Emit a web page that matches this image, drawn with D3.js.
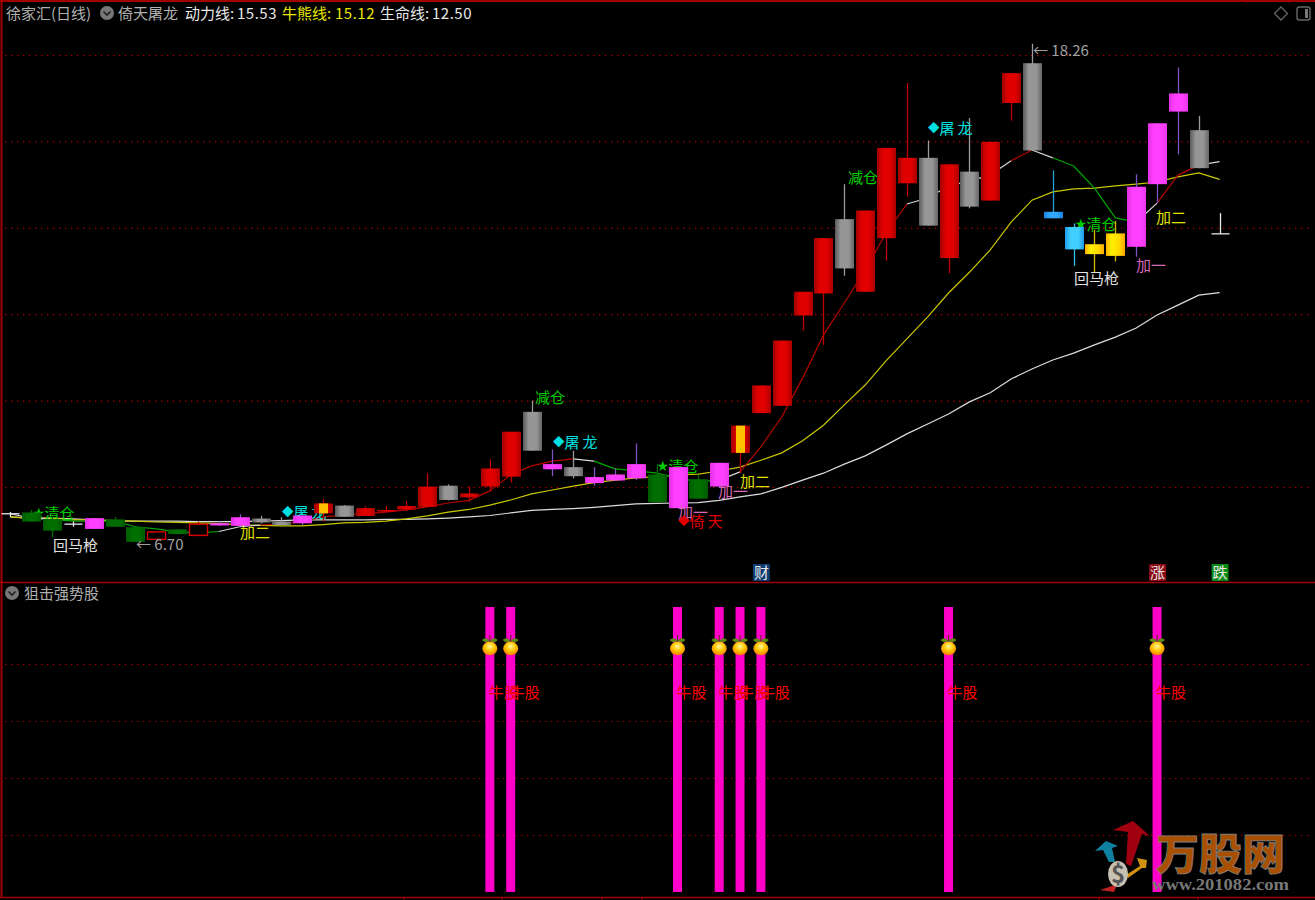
<!DOCTYPE html>
<html><head><meta charset="utf-8">
<style>html,body{margin:0;background:#000;overflow:hidden}svg{display:block}text{font-family:"Noto Sans CJK SC","Noto Sans",sans-serif}</style>
<script src="https://cdn.jsdelivr.net/npm/d3@7"></script></head><body>
<script>
const open_=[7.36,7.41,7.26,7.14,7.03,7.25,7.07,6.79,7.02,6.88,7.11,7.10,7.27,7.20,7.16,7.39,7.57,7.33,7.43,7.48,7.54,8.03,7.76,8.01,8.24,9.74,8.41,8.46,8.09,8.15,8.20,8.29,7.51,8.18,8.01,8.79,9.71,9.88,11.97,12.48,14.20,12.52,13.76,15.03,15.62,13.30,15.30,14.63,16.89,17.81,14.37,14.02,13.62,13.35,13.56,15.01,16.69,16.26,13.86];
const close_=[7.38,7.20,6.99,7.13,7.28,7.08,6.73,6.96,6.91,7.14,7.16,7.30,7.18,7.12,7.34,7.62,7.31,7.51,7.47,7.56,8.01,7.70,7.85,8.43,9.28,8.84,8.53,8.25,8.23,8.29,8.53,7.65,8.46,7.73,8.56,9.42,10.35,11.39,12.52,13.76,13.06,14.40,15.85,15.62,14.05,15.47,14.49,15.99,17.58,15.79,14.22,13.50,13.39,13.87,14.95,16.42,17.11,15.38,13.86];
const high_=[7.42,7.47,7.31,7.20,7.28,7.31,7.07,6.96,7.02,7.20,7.20,7.37,7.33,7.30,7.35,7.71,7.58,7.56,7.56,7.68,8.32,8.06,8.01,8.64,9.28,10.00,8.87,8.84,8.46,8.43,9.01,8.53,8.46,8.29,8.56,9.42,10.35,11.39,12.52,13.76,15.01,14.40,15.85,17.35,16.02,15.47,16.54,15.99,17.58,18.26,15.33,14.10,13.95,14.16,15.24,16.42,17.71,16.59,14.34];
const low_=[7.31,7.19,6.84,7.08,7.03,7.08,6.73,6.79,6.91,6.88,7.10,7.09,7.16,7.11,7.12,7.20,7.31,7.33,7.41,7.45,7.54,7.69,7.66,7.89,8.10,8.84,8.25,8.20,8.03,8.14,8.16,7.65,7.51,7.73,8.01,8.32,9.71,9.88,11.62,11.29,12.89,12.52,13.24,14.72,14.05,12.95,14.45,14.63,16.48,15.79,14.22,13.12,12.95,13.22,13.33,14.57,15.70,15.38,13.86];
const candleKind=["doji","down","down","doji","pink","down","down","hollow","down","hollow","pink","pink","silver","silver","pink","split","silver","up","up","up","up","silver","up","up","up","silver","pink","silver","pink","pink","pink","down","pink","down","pink","split","up","up","up","up","silver","up","up","up","silver","up","silver","up","up","silver","blue","sky","gold","gold","pink","pink","pink","silver","doji"];
const powerLine=[7.38,7.28,7.25,7.21,7.21,7.21,7.08,7.03,6.96,6.94,6.97,7.08,7.12,7.14,7.20,7.31,7.35,7.38,7.42,7.47,7.54,7.63,7.69,7.91,8.28,8.49,8.60,8.65,8.60,8.42,8.38,8.32,8.21,8.12,8.16,8.35,8.93,9.62,10.52,11.52,12.26,13.02,13.88,14.55,14.69,14.97,15.08,15.22,15.55,15.80,15.62,15.43,14.92,14.23,14.13,14.57,15.22,15.45,15.53];
const powerTrend=["flat","flat","fall","fall","fall","fall","fall","fall","fall","fall","flat","flat","rise","rise","rise","rise","rise","rise","rise","rise","rise","rise","rise","rise","rise","rise","rise","flat","fall","fall","fall","fall","fall","fall","flat","rise","rise","rise","rise","rise","rise","rise","rise","flat","flat","flat","flat","flat","rise","flat","fall","fall","fall","fall","flat","rise","rise","flat"];
const bullBearLine=[7.31,7.27,7.28,7.24,7.24,7.22,7.21,7.19,7.18,7.17,7.15,7.13,7.11,7.10,7.10,7.13,7.17,7.18,7.21,7.26,7.33,7.42,7.48,7.58,7.70,7.84,7.93,8.02,8.10,8.16,8.21,8.24,8.28,8.30,8.37,8.46,8.62,8.79,9.07,9.43,9.90,10.36,10.92,11.43,11.94,12.49,12.97,13.49,14.13,14.64,14.83,14.90,14.92,14.97,15.01,15.06,15.18,15.27,15.12];
const lifeLine=[7.31,7.28,7.28,7.26,7.24,7.21,7.21,7.21,7.21,7.20,7.20,7.20,7.21,7.22,7.24,7.24,7.24,7.24,7.25,7.25,7.26,7.28,7.31,7.34,7.40,7.46,7.48,7.50,7.53,7.57,7.61,7.62,7.63,7.64,7.69,7.77,7.84,7.99,8.16,8.32,8.53,8.72,8.97,9.23,9.46,9.69,9.97,10.18,10.50,10.73,10.94,11.10,11.29,11.47,11.68,11.98,12.21,12.44,12.50];
const priceTicks=[8,10,12,14,16,18];
const signalBars=[23,24,32,34,35,36,45,55];
const signalTicks=[0.2,0.4,0.6,0.8];
const tagBars=[36,55,58], tagText=["财","涨","跌"], tagKind=["news","limitUp","limitDown"];
const noteText=["★清仓","回马枪","← 6.70","加二","◆屠 龙","减仓","◆屠 龙","★清仓","加一","◆倚 天","加一","加二","减仓","◆屠 龙","← 18.26","★清仓","回马枪","加一","加二"];
const noteBar=[1,2,6,11,14,25,26,31,32,32,34,35,40,44,49,51,51,54,55];
const notePrice=[7.42,6.68,6.70,6.96,7.44,10.10,9.06,8.51,7.44,7.24,7.93,8.16,15.18,16.33,18.12,14.11,12.86,13.16,14.27];
const noteKind=["clear","horse","price","add2","dragon","cut","dragon","clear","add1","sky","add1","add2","cut","dragon","price","clear","horse","add1","add2"];

const W=1315,H=900;
const svg=d3.select("body").append("svg").attr("width",W).attr("height",H).style("background","#000");
const defs=svg.append("defs");
const x=d3.scaleLinear().domain([0,58]).range([10.3,1219.6]);
const y=d3.scaleLinear().domain([8,18]).range([487,55]);
const ySig=d3.scaleLinear().domain([0,1]).range([892,607]);
const BODY=19;
const grads={up:["#a00000","#e00000","#e00000","#a80000"],silver:["#5a5a5a","#969696","#969696","#666"],pink:["#e030e0","#ff40ff","#ff40ff","#e838e8"],down:["#005a00","#006e00","#006e00","#005a00"],gold:["#ffb000","#fff000","#ffd800","#ffa800"],sky:["#1c9cf0","#40d0ff","#40d0ff","#2098e8"],blue:["#1a80e0","#30a8ff","#30a8ff","#1a80e0"],split:["#a00000","#e00000","#e00000","#a00000"]};
Object.entries(grads).forEach(([k,c])=>{const g=defs.append("linearGradient").attr("id","g-"+k);
 [0,.3,.7,1].forEach((o,i)=>g.append("stop").attr("offset",o).attr("stop-color",c[i]));});
const rg=defs.append("radialGradient").attr("id","fruit").attr("cx",.5).attr("cy",.35).attr("r",.7);
[[0,"#fff8a0"],[.45,"#ffc800"],[1,"#f07000"]].forEach(([o,c])=>rg.append("stop").attr("offset",o).attr("stop-color",c));
const wickColor={up:"#c00000",hollow:"#c00000",split:"#c00000",down:"#006e00",pink:"#7e52c0",silver:"#9a9a9a",doji:"#e8e8e8",blue:"#28a0d0",sky:"#30c0e8",gold:"#d8b800"};
const trendColor={rise:"#b80000",flat:"#d8d8d8",fall:"#00a800"};
const noteStyle={clear:"#00d000",horse:"#e0e0e0",price:"#a0a0a0",add1:"#d868b8",add2:"#e0e000",dragon:"#00e0e0",cut:"#00d000",sky:"#e00000"};
const noteX=[33,53,136,240,282,535,553,657,678,678,718,740,848,928,1033,1075,1074,1136,1156];
const underNotes=new Set([0,4,7,15]);
const tagFill={news:"#0c3c70",limitUp:"#8c0a14",limitDown:"#0a8a14"};

// frame
const frame=svg.append("g").attr("stroke","#a00000").attr("fill","none");
frame.append("line").attr("x1",0).attr("x2",W).attr("y1",1).attr("y2",1).attr("stroke-width",2);
frame.append("line").attr("x1",1.5).attr("x2",1.5).attr("y1",0).attr("y2",898).attr("stroke-width",2);
frame.append("line").attr("x1",0).attr("x2",W).attr("y1",582.5).attr("y2",582.5).attr("stroke-width",1.5);
frame.append("line").attr("x1",0).attr("x2",W).attr("y1",897.5).attr("y2",897.5).attr("stroke-width",1.5);
[404,502,602,642,1099,1198].forEach(t=>frame.append("line").attr("x1",t).attr("x2",t).attr("y1",897).attr("y2",900));
[1246,1289].forEach(t=>frame.append("line").attr("x1",t).attr("x2",t).attr("y1",0).attr("y2",3));

// grids
const grid=svg.append("g").attr("stroke","#b00000").attr("stroke-width",1.2).attr("stroke-dasharray","1.4 4.6");
priceTicks.forEach(t=>grid.append("line").attr("x1",5).attr("x2",1312).attr("y1",y(t)+.5).attr("y2",y(t)+.5));
signalTicks.forEach(t=>grid.append("line").attr("x1",5).attr("x2",1312).attr("y1",ySig(t)+.5).attr("y2",ySig(t)+.5));

function note(g,i){
 const t=g.append("text").attr("x",noteX[i]).attr("y",y(notePrice[i])).attr("dominant-baseline","central")
  .attr("fill",noteStyle[noteKind[i]]).attr("font-size",15);
 const s=noteText[i],first=s[0];
 if(first==="★"||first==="◆"){t.append("tspan").attr("font-size",11.5).text(first);t.append("tspan").text(s.slice(1).replace(" ","\u2009"));}
 else t.text(s);}

// lines
const lineGen=d3.line().x((d,i)=>x(i)).y(d=>y(d));
const gL=svg.append("g").attr("fill","none").attr("stroke-width",1.2);
gL.append("path").attr("d",lineGen(lifeLine)).attr("stroke","#dcdcdc");
gL.append("path").attr("d",lineGen(bullBearLine)).attr("stroke","#c8c800");
powerTrend.forEach((t,i)=>gL.append("line").attr("x1",x(i)).attr("x2",x(i+1)).attr("y1",y(powerLine[i])).attr("y2",y(powerLine[i+1])).attr("stroke",trendColor[t]));

const under=svg.append("g");underNotes.forEach(i=>note(under,i));

// candles
const gC=svg.append("g");
open_.forEach((o,i)=>{const k=candleKind[i],c=close_[i],cx=Math.round(x(i))+.5,top=y(Math.max(o,c)),bot=y(Math.min(o,c));
 gC.append("line").attr("x1",cx).attr("x2",cx).attr("y1",y(high_[i])).attr("y2",y(low_[i])).attr("stroke",wickColor[k]).attr("stroke-width",1.3);
 if(k==="doji"){gC.append("line").attr("x1",cx-9).attr("x2",cx+9).attr("y1",top).attr("y2",top).attr("stroke","#e8e8e8").attr("stroke-width",1.3);return;}
 if(k==="hollow"){gC.append("rect").attr("x",cx-9).attr("y",top).attr("width",18).attr("height",bot-top).attr("fill","#000").attr("stroke","#d80000").attr("stroke-width",1.4);return;}
 gC.append("rect").attr("x",cx-BODY/2).attr("y",top).attr("width",BODY).attr("height",Math.max(1,bot-top)).attr("fill",`url(#g-${k})`);
 if(k==="split")gC.append("rect").attr("x",cx-4.5).attr("y",top).attr("width",9).attr("height",bot-top).attr("fill","#ffc000");
});

const over=svg.append("g");noteText.forEach((t,i)=>{if(!underNotes.has(i))note(over,i);});

// tags
tagBars.forEach((b,i)=>{const cx=x(b);const g=svg.append("g");
 g.append("rect").attr("x",cx-8).attr("y",564).attr("width",17).attr("height",17).attr("rx",1).attr("fill",tagFill[tagKind[i]]);
 g.append("text").attr("x",cx+.5).attr("y",577.5).attr("text-anchor","middle").attr("font-size",15).attr("fill","#e8e8e8").text(tagText[i]);});

// signal panel
const gS=svg.append("g");
signalBars.forEach(b=>{const cx=x(b);
 gS.append("rect").attr("x",cx-4.5).attr("y",ySig(1)).attr("width",9).attr("height",ySig(0)-ySig(1)).attr("fill","#ff00c8");});
signalBars.forEach(b=>{const cx=x(b);
 gS.append("path").attr("d",`M${cx},641 Q${cx-4},636 ${cx-8},640 Q${cx-4},644 ${cx},641 Q${cx+4},636 ${cx+8},640 Q${cx+4},644 ${cx},641Z`).attr("fill","#5c8a10");
 gS.append("line").attr("x1",cx).attr("x2",cx).attr("y1",635).attr("y2",642).attr("stroke","#5a3010").attr("stroke-width",1);
 gS.append("ellipse").attr("cx",cx).attr("cy",648.5).attr("rx",7.5).attr("ry",6.8).attr("fill","url(#fruit)");});
signalBars.forEach(b=>gS.append("text").attr("x",x(b)-1).attr("y",698).attr("font-size",15).attr("fill","#ff0000").text("牛股"));

// header
function head(xp,yp,s,col,ls){return svg.append("text").attr("x",xp).attr("y",yp).attr("font-size",15).attr("letter-spacing",ls||0).attr("fill",col).text(s);}
function chevron(cx,cy){svg.append("circle").attr("cx",cx).attr("cy",cy).attr("r",7).attr("fill","#777");
 svg.append("path").attr("d",`M${cx-3.5},${cy-1.5}L${cx},${cy+2}L${cx+3.5},${cy-1.5}`).attr("fill","none").attr("stroke","#222").attr("stroke-width",1.6);}
head(6,19,"徐家汇(日线)","#b0b0b0");chevron(107,13);
head(118,19,"倚天屠龙","#b0b0b0");
head(185,19,"动力线:","#e8e8e8");head(237,19,"15.53","#e8e8e8",.5);
head(282,19,"牛熊线:","#e8e800");head(335,19,"15.12","#e8e800",.5);
head(380,19,"生命线:","#e8e8e8");head(432,19,"12.50","#e8e8e8",.5);
chevron(12,593);head(24,599,"狙击强势股","#b0b0b0");
svg.append("path").attr("d","M1281,7L1287.5,13.5L1281,20L1274.5,13.5Z").attr("fill","none").attr("stroke","#666").attr("stroke-width",1.3);
svg.append("rect").attr("x",1297).attr("y",7).attr("width",13).attr("height",13).attr("rx",2.5).attr("fill","none").attr("stroke","#666").attr("stroke-width",1.4);
svg.append("rect").attr("x",1305).attr("y",9).attr("width",3).attr("height",9).attr("fill","#777");

// watermark
const wm=svg.append("g");
wm.append("path").attr("d","M1113,830L1133,821L1150,836L1142,834L1131,866L1126,864L1128,832Z").attr("fill","#a00010");
wm.append("path").attr("d","M1095,851L1106,841L1118,846L1112,848L1115,862L1109,862L1103,850Z").attr("fill","#1080a0");
wm.append("path").attr("d","M1126,875L1140,866L1137,858L1147,860L1146,868L1142,868L1128,878Z").attr("fill","#d09010");
wm.append("path").attr("d","M1100,890L1112,886L1118,882L1114,892Z").attr("fill","#c02020");
wm.append("ellipse").attr("cx",1118).attr("cy",874).attr("rx",10).attr("ry",13).attr("fill","#c8c0b0");
wm.append("text").attr("x",1118).attr("y",883).attr("text-anchor","middle").attr("font-size",24).attr("font-weight",700).attr("fill","#555").text("$");
wm.append("text").attr("x",1156).attr("y",870).attr("font-size",43).attr("font-weight",900).attr("textLength",129).attr("lengthAdjust","spacingAndGlyphs").attr("fill","#a85000").attr("stroke","#808080").attr("stroke-width",.8).text("万股网");
wm.append("text").attr("x",1152).attr("y",890).attr("font-size",16).attr("font-weight",700).style("font-family","'Liberation Serif',serif").attr("textLength",137).attr("lengthAdjust","spacingAndGlyphs").attr("fill","#787878").text("www.201082.com");
</script></body></html>
